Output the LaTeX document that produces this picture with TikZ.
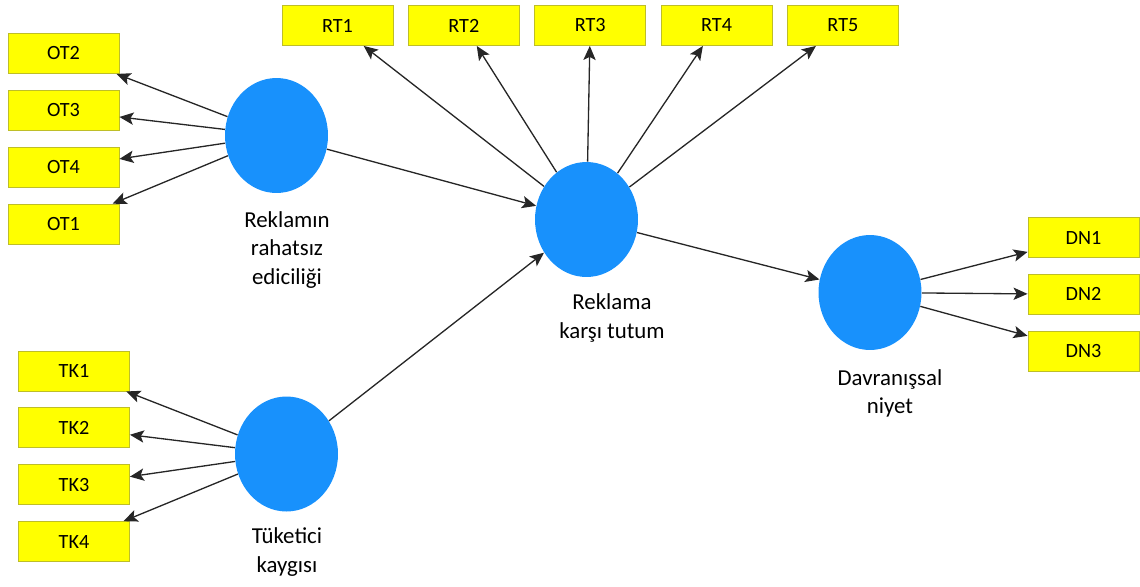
\documentclass[tikz,border=0pt]{standalone}
\usepackage{fontspec}
\setmainfont{Carlito}
\usepackage{xcolor}
\usetikzlibrary{positioning,shapes.geometric,arrows.meta}
\definecolor{lvblue}{RGB}{24,145,252}
\definecolor{indyellow}{RGB}{255,255,0}
\definecolor{indborder}{RGB}{190,190,40}

\begin{document}
\begin{tikzpicture}[x=0.02cm,y=-0.02cm,
    node distance=0.32cm,
    ind/.style={rectangle,draw=indborder,fill=indyellow,line width=0.5pt,
                minimum width=2.22cm,minimum height=0.8cm,inner sep=0pt,
                font=\fontsize{11.5}{13}\selectfont},
    lv/.style={ellipse,fill=lvblue,minimum width=2.06cm,minimum height=2.3cm,inner sep=0pt},
    lbl/.style={font=\fontsize{13}{16}\selectfont,align=center},
    arr/.style={-{Stealth[length=8pt,width=7pt,inset=1.8pt]},line width=0.75pt,draw=black!85}]
\useasboundingbox (0,0) rectangle (1140,586);
% latent variables
\node[lv] (ot) at (276.5,135.5) {};
\node[lv] (rt) at (586.5,219.5) {};
\node[lv] (dn) at (870,292.5) {};
\node[lv] (tk) at (286.5,454) {};
\node[lbl] at (287,250) (otlbl) {Reklamın\\rahatsız\\ediciliği};
\node[lbl] at (612,318) (rtlbl) {Reklama\\karşı tutum};
\node[lbl] at (890,393) (dnlbl) {Davranışsal\\niyet};
\node[lbl] at (287,552) (tklbl) {Tüketici\\kaygısı};
% indicators
\node[ind] at (63.5,53.5) (ot2) {OT2};
\node[ind,below=of ot2] (ot3) {OT3};
\node[ind,below=of ot3] (ot4) {OT4};
\node[ind,below=of ot4] (ot1) {OT1};
\node[ind] at (337.5,25.5) (rt1) {RT1};
\node[ind,right=0.29cm of rt1] (rt2) {RT2};
\node[ind,right=0.29cm of rt2] (rt3) {RT3};
\node[ind,right=0.29cm of rt3] (rt4) {RT4};
\node[ind,right=0.29cm of rt4] (rt5) {RT5};
\node[ind] at (1083.5,237.5) (dn1) {DN1};
\node[ind,below=of dn1] (dn2) {DN2};
\node[ind,below=of dn2] (dn3) {DN3};
\node[ind] at (74,371) (tk1) {TK1};
\node[ind,below=of tk1] (tk2) {TK2};
\node[ind,below=of tk2] (tk3) {TK3};
\node[ind,below=of tk3] (tk4) {TK4};
% paths
\draw[arr](ot)--(rt);\draw[arr](tk)--(rt);\draw[arr](rt)--(dn);
\draw[arr](ot)--(ot2);\draw[arr](ot)--(ot3);\draw[arr](ot)--(ot4);\draw[arr](ot)--(ot1);
\draw[arr](rt)--(rt1);\draw[arr](rt)--(rt2);\draw[arr](rt)--(rt3);
\draw[arr](rt)--(rt4);\draw[arr](rt)--(rt5);
\draw[arr](dn)--(dn1);\draw[arr](dn)--(dn2);\draw[arr](dn)--(dn3);
\draw[arr](tk)--(tk1);\draw[arr](tk)--(tk2);\draw[arr](tk)--(tk3);\draw[arr](tk)--(tk4);
\end{tikzpicture}
\end{document}
